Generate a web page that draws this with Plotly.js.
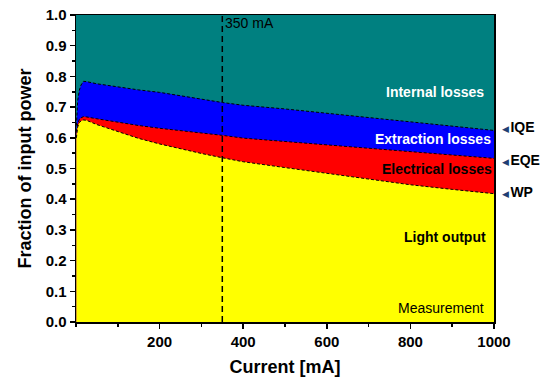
<!DOCTYPE html>
<html>
<head>
<meta charset="utf-8">
<script src="https://cdn.plot.ly/plotly-3.0.1.min.js"></script>
<style>html,body{margin:0;padding:0;background:#fff;}#chart{width:547px;height:381px;}</style>
</head>
<body>
<div id="chart"></div>
<script>
// Current (mA)
const current = [1, 4, 8, 12, 18, 25, 50, 100, 150, 200, 250, 300, 350, 400, 500, 600, 700, 800, 900, 1000];
// Internal quantum efficiency (top of blue band)
const iqe = [0.64, 0.72, 0.755, 0.772, 0.784, 0.783, 0.776, 0.765, 0.756, 0.748, 0.738, 0.726, 0.715, 0.706, 0.694, 0.680, 0.666, 0.652, 0.638, 0.624];
// External quantum efficiency (top of red band)
const eqe = [0.62, 0.645, 0.66, 0.665, 0.669, 0.668, 0.662, 0.650, 0.640, 0.631, 0.624, 0.616, 0.608, 0.599, 0.588, 0.576, 0.565, 0.553, 0.543, 0.533];
// Wall-plug efficiency (top of yellow band)
const wp = [0.60, 0.635, 0.65, 0.655, 0.658, 0.657, 0.643, 0.620, 0.598, 0.580, 0.564, 0.549, 0.535, 0.522, 0.503, 0.484, 0.466, 0.447, 0.432, 0.418];

const xTicks = [200, 400, 600, 800, 1000];
const yTicks = [0, 0.1, 0.2, 0.3, 0.4, 0.5, 0.6, 0.7, 0.8, 0.9, 1.0];
const yTickText = ['0.0','0.1','0.2','0.3','0.4','0.5','0.6','0.7','0.8','0.9','1.0'];
const markerCurrent = 350;
const endLabels = ['IQE', 'EQE', 'WP'];
const endLabelY = [0.634, 0.529, 0.422];

const F = 'Liberation Sans, Arial, sans-serif';
const dashLine = {color: 'black', width: 1, dash: '3px,2px'};

const traces = [
  {x: current, y: iqe, type: 'scatter', mode: 'lines', fill: 'tozeroy', fillcolor: '#0000ff', line: dashLine, hoverinfo: 'skip'},
  {x: current, y: eqe, type: 'scatter', mode: 'lines', fill: 'tozeroy', fillcolor: '#ff0000', line: dashLine, hoverinfo: 'skip'},
  {x: current, y: wp, type: 'scatter', mode: 'lines', fill: 'tozeroy', fillcolor: '#ffff00', line: dashLine, hoverinfo: 'skip'}
];

const tri = (t) => "<span style='color:#1f3f73;font-size:9px'>◀</span><span style='font-size:5px'> </span><b>" + t + "</b>";

const annotations = [
  {x: markerCurrent, y: 0.975, xref: 'x', yref: 'y', text: '350 mA', showarrow: false, xanchor: 'left', xshift: 1, font: {family: F, size: 14, color: '#000'}},
  {x: 859, y: 0.748, xref: 'x', yref: 'y', text: '<b>Internal losses</b>', showarrow: false, font: {family: F, size: 14, color: '#fff'}},
  {x: 854, y: 0.595, xref: 'x', yref: 'y', text: '<b>Extraction losses</b>', showarrow: false, font: {family: F, size: 14, color: '#fff'}},
  {x: 864, y: 0.497, xref: 'x', yref: 'y', text: '<b>Electrical losses</b>', showarrow: false, font: {family: F, size: 14, color: '#000'}},
  {x: 883, y: 0.278, xref: 'x', yref: 'y', text: '<b>Light output</b>', showarrow: false, font: {family: F, size: 14, color: '#000'}},
  {x: 873, y: 0.046, xref: 'x', yref: 'y', text: 'Measurement', showarrow: false, font: {family: F, size: 14, color: '#000'}}
];
endLabels.forEach((t, i) => annotations.push({
  x: 1.014, y: endLabelY[i], xref: 'paper', yref: 'y', text: tri(t), showarrow: false, xanchor: 'left',
  font: {family: F, size: 14, color: '#000'}
}));

const layout = {
  width: 547, height: 381,
  margin: {l: 76, r: 53, t: 15, b: 59},
  paper_bgcolor: '#ffffff',
  plot_bgcolor: '#008080',
  showlegend: false,
  font: {family: F, color: '#000'},
  xaxis: {
    range: [0, 1000], tickvals: xTicks, ticks: 'outside', ticklen: 5, tickwidth: 1.5, tickcolor: '#000',
    showline: true, linewidth: 1.5, linecolor: '#000', mirror: true, showgrid: false, zeroline: false,
    tickfont: {family: F, size: 15, color: '#000', weight: 'bold'},
    minor: {dtick: 100, ticks: 'outside', ticklen: 3, tickwidth: 1.5, tickcolor: '#000', showgrid: false},
    title: {text: '<b>Current [mA]</b>', font: {family: F, size: 18, color: '#000'}, standoff: 12}
  },
  yaxis: {
    range: [0, 1], tickvals: yTicks, ticktext: yTickText, ticks: 'outside', ticklen: 5, tickwidth: 1.5, tickcolor: '#000',
    showline: true, linewidth: 1.5, linecolor: '#000', mirror: true, showgrid: false, zeroline: false,
    tickfont: {family: F, size: 15, color: '#000', weight: 'bold'},
    minor: {dtick: 0.05, ticks: 'outside', ticklen: 3, tickwidth: 1.5, tickcolor: '#000', showgrid: false},
    title: {text: '<b>Fraction of input power</b>', font: {family: F, size: 18, color: '#000'}, standoff: 9}
  },
  shapes: [
    {type: 'line', xref: 'x', yref: 'y', x0: markerCurrent, x1: markerCurrent, y0: 0, y1: 1.005,
     line: {color: '#000', width: 1.5, dash: '6px,4px'}}
  ],
  annotations: annotations
};

Plotly.newPlot('chart', traces, layout, {displayModeBar: false, staticPlot: true});
</script>
</body>
</html>
